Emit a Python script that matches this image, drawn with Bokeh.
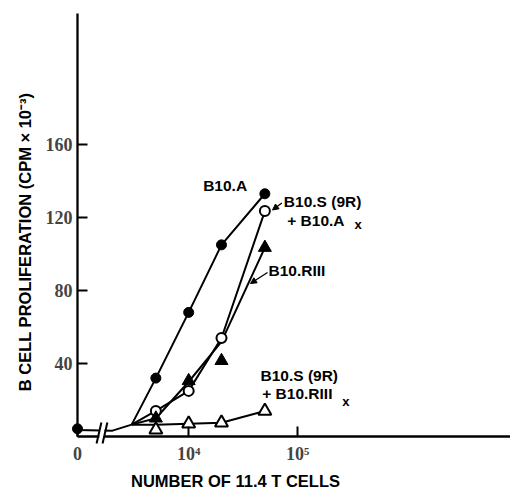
import math
from bokeh.plotting import figure
from bokeh.models import (ColumnDataSource, FixedTicker, Label, Arrow, NormalHead,
                          LinearAxis)
from bokeh.core.properties import value
from bokeh.embed import file_html
from bokeh.resources import INLINE

# ---------------- data ----------------
cells = [5000, 10000, 20000, 50000]          # number of 11.4 T cells
zero_cpm = 4.2                                # response with 0 T cells (shared)
b10a = [32, 68, 105, 133]                     # B10.A  (filled circles)
b10s_b10a = [14, 25, 54, 123.5]               # B10.S (9R) + B10.A x (open circles)
b10riii = [10, 30.5, 41.5, 103.5]             # B10.RIII (filled triangles)
b10s_b10riii = [3.7, 7, 7.5, 14]              # B10.S (9R) + B10.RIII x (open triangles)

# drawn (hand-fitted) curves
base_cells = [0, 2000, 3000]
base_cpm = [3.5, 3.2, 6.5]
curve_cells = [3000, 5000, 10000, 20000, 50000]
curve_b10a = [6.5, 32, 68, 105, 133]
curve_b10s_b10a = [6.5, 14, 25, 54, 123.5]
curve_b10riii = [6.5, 10, 30, 52, 103.5]
curve_b10s_b10riii = [6.5, 6.5, 7, 7.5, 14]

y_ticks = [40, 80, 120, 160]
x_tick_labels = ["0", "10\u2074", "10\u2075"]

# ---------------- scale helpers ----------------
L0 = 2.98   # axis position used for "0" cells (broken log axis)


def pos(c):
    return L0 if c == 0 else math.log10(c)


FONT = "Liberation Sans"
NARROW = "Liberation Sans Narrow"

p = figure(width=510, height=489, x_range=(2.2736, 6.9525), y_range=(-29.04, 238.9),
           output_backend="svg", toolbar_location=None, min_border=0,
           x_axis_type=None, y_axis_type=None)
p.outline_line_color = None
p.background_fill_color = "white"
p.border_fill_color = "white"

# ---------------- axes ----------------
xaxis = LinearAxis(fixed_location=0, ticker=FixedTicker(ticks=[L0, 4, 5]),
                   major_label_overrides={L0: x_tick_labels[0], 4: x_tick_labels[1],
                                          5: x_tick_labels[2]},
                   axis_line_color=None, major_tick_in=10, major_tick_out=0,
                   major_tick_line_width=2, minor_tick_line_color=None,
                   major_label_text_font=NARROW, major_label_text_font_size="18px",
                   major_label_text_font_style="bold", major_label_standoff=7)
p.add_layout(xaxis, "below")
yaxis = LinearAxis(fixed_location=L0, ticker=FixedTicker(ticks=y_ticks),
                   axis_line_color=None, major_tick_in=10, major_tick_out=0,
                   major_tick_line_width=2, minor_tick_line_color=None,
                   major_label_text_font=NARROW, major_label_text_font_size="18px",
                   major_label_text_font_style="bold", major_label_standoff=5)
p.add_layout(yaxis, "left")

# axis lines (x axis broken)
brk_a, brk_b = 3.182, 3.228
p.segment(x0=[L0, L0, brk_b], y0=[0, 0, 0], x1=[L0, brk_a, 6.9525], y1=[231.8, 0, 0],
          line_color="black", line_width=2.3)

# ---------------- curves ----------------
p.line([pos(c) for c in base_cells], base_cpm, line_color="black", line_width=2)
cx = [pos(c) for c in curve_cells]
for ys in (curve_b10a, curve_b10s_b10a, curve_b10riii, curve_b10s_b10riii):
    p.line(cx, ys, line_color="black", line_width=2)

# break in axis
p.quad(left=[brk_a], right=[brk_b], bottom=[-3], top=[6], fill_color="white",
       line_color=None)
p.segment(x0=[3.177 - 0.022, 3.232 - 0.022], y0=[-3.8, -3.8],
          x1=[3.177 + 0.022, 3.232 + 0.022], y1=[7.7, 7.7],
          line_color="black", line_width=2)

# ---------------- markers ----------------
mx = [pos(c) for c in cells]
p.scatter([pos(0)], [zero_cpm], marker="circle", size=10, fill_color="black",
          line_color="black")
p.scatter(mx, b10a, marker="circle", size=10, fill_color="black", line_color="black")
p.scatter(mx, b10s_b10a, marker="circle", size=10, fill_color="white",
          line_color="black", line_width=2)
p.scatter(mx, b10riii, marker="triangle", size=13, fill_color="black",
          line_color="black")
p.scatter(mx, b10s_b10riii, marker="triangle", size=13, fill_color="white",
          line_color="black", line_width=2)

# ---------------- annotations ----------------
labels = ColumnDataSource(dict(
    x=[4.133, 4.873, 4.904, 4.732, 4.659, 4.675],
    y=[137.5, 128.8, 118.4, 91.0, 33.4, 23.4],
    t=["B10.A", "B10.S (9R)", "+ B10.A", "B10.RIII", "B10.S (9R)", "+ B10.RIII"],
))
p.text(x="x", y="y", text="t", source=labels, text_font=value(FONT),
       text_font_size="15.5px", text_font_style="bold", text_align="left",
       text_baseline="middle", text_color="black")
subs = ColumnDataSource(dict(x=[5.522, 5.408], y=[116.0, 19.3], t=["x", "x"]))
p.text(x="x", y="y", text="t", source=subs, text_font=value(FONT),
       text_font_size="13px", text_font_style="bold", text_align="left",
       text_baseline="middle", text_color="black")

p.add_layout(Arrow(x_start=4.855, y_start=128.0, x_end=4.769, y_end=124.1,
                   end=NormalHead(size=6, fill_color="black", line_color="black"),
                   line_color="black", line_width=1.3))
p.add_layout(Arrow(x_start=4.723, y_start=89.9, x_end=4.567, y_end=83.8,
                   end=NormalHead(size=6, fill_color="black", line_color="black"),
                   line_color="black", line_width=1.3))

# axis titles
p.add_layout(Label(x=2.494, y=106.6, text="B CELL PROLIFERATION (CPM \u00d7 10\u207b\u00b3)",
                   angle=math.pi / 2, text_align="center", text_baseline="middle",
                   text_font=FONT, text_font_size="16.5px", text_font_style="bold",
                   text_color="black"))
p.add_layout(Label(x=2.98 + (235 - 77) / 109, y=(436 - 480) / 1.825,
                   text="NUMBER OF 11.4 T CELLS", text_align="center",
                   text_baseline="middle", text_font=FONT, text_font_size="16.5px",
                   text_font_style="bold", text_color="black"))

open("out.html", "w").write(file_html(p, INLINE))
